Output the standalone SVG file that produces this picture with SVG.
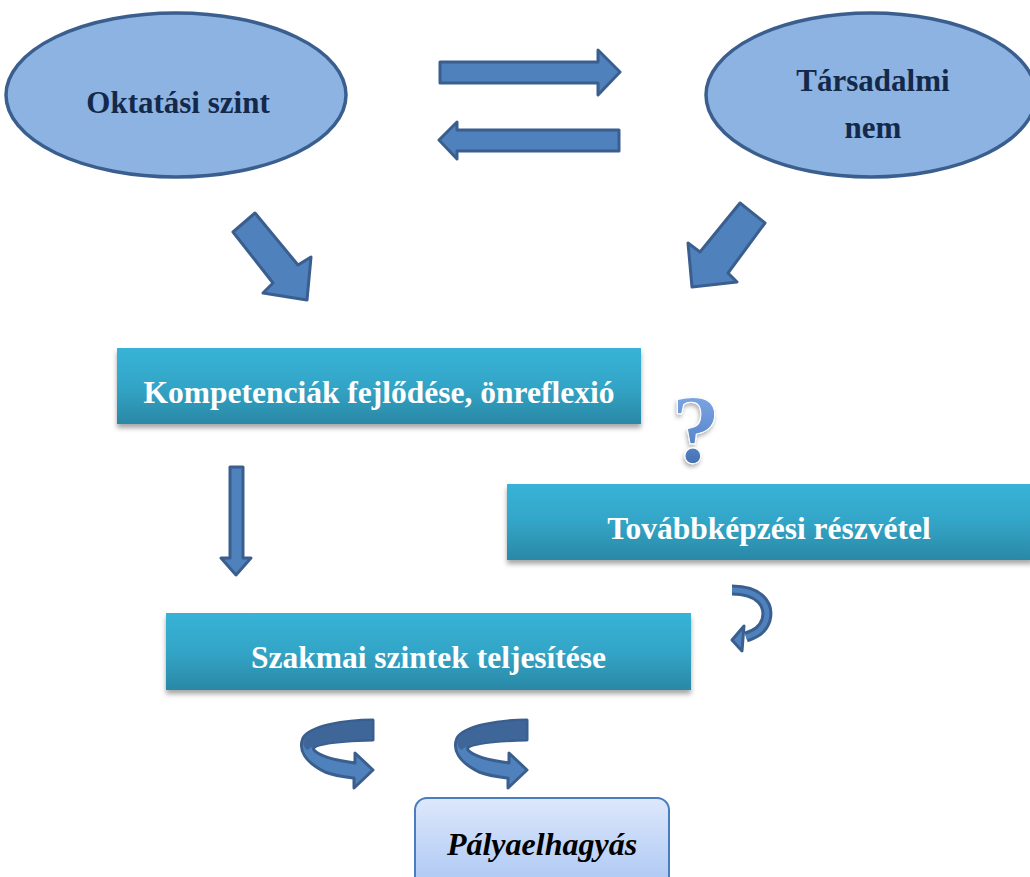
<svg xmlns="http://www.w3.org/2000/svg" width="1030" height="877" viewBox="0 0 1030 877">
<defs>
<linearGradient id="boxg" x1="0" y1="0" x2="0" y2="1">
<stop offset="0" stop-color="#37b3d7"/>
<stop offset="0.5" stop-color="#33a5c7"/>
<stop offset="1" stop-color="#2a88a5"/>
</linearGradient>
<linearGradient id="endg" x1="0" y1="0" x2="0" y2="1">
<stop offset="0" stop-color="#dde8fb"/>
<stop offset="1" stop-color="#a6c3f3"/>
</linearGradient>
<linearGradient id="qg" x1="0" y1="0" x2="0" y2="1">
<stop offset="0" stop-color="#8cb2ec"/>
<stop offset="0.55" stop-color="#5f8bd0"/>
<stop offset="1" stop-color="#35609f"/>
</linearGradient>
<filter id="sh" x="-5%" y="-20%" width="110%" height="150%">
<feDropShadow dx="0" dy="4" stdDeviation="2.5" flood-color="#000" flood-opacity="0.35"/>
</filter>
<filter id="qsh" x="-50%" y="-20%" width="200%" height="150%">
<feDropShadow dx="-1" dy="3" stdDeviation="2" flood-color="#000" flood-opacity="0.3"/>
</filter>
<style>
.ell{fill:#8db3e2;stroke:#3a5f8f;stroke-width:3.5}
.et{font-family:"Liberation Serif","Times New Roman",serif;font-weight:bold;font-size:31px;fill:#14294a;text-anchor:middle}
.box{fill:url(#boxg);filter:url(#sh)}
.bt{font-family:"Liberation Serif","Times New Roman",serif;font-weight:bold;font-size:31.5px;fill:#ffffff;text-anchor:middle}
.arr{fill:#4f81bd;stroke:#3a5f8f;stroke-width:3;stroke-linejoin:round}
.arrd{fill:#3f6699;stroke:none}
</style>
</defs>
<rect width="1030" height="877" fill="#ffffff"/>

<g id="connectors">
<polygon class="arr" points="440,62 598,62 598,50 620,72 598,95 598,83 440,83"/>
<polygon class="arr" points="619,130 457,130 457,122 439,140 457,159 457,151 619,151"/>
<polygon class="arr" points="233,232 255,213 298,265 311,257 307,300 263,293 273,283"/>
<polygon class="arr" points="740,203 765,223 728,273 737,282 692,287 688,243 700,252"/>
<polygon class="arr" stroke-width="2.5" points="230,467 243,467 243,558 251,558 236,575 221,558 230,558"/>
<g id="curl-right">
<path d="M732,590 C760,590 770,605 766,620 C763,630 755,634 746,637" fill="none" stroke="#3a5f8f" stroke-width="11"/>
<path d="M732,590 C760,590 770,605 766,620 C763,630 755,634 746,637" fill="none" stroke="#4f81bd" stroke-width="5"/>
<polygon class="arr" stroke-width="2.5" points="732,640 744,626 742,651"/>
</g>
<g id="curl1">
<path class="arr" stroke-width="2.5" d="M373,720 C345,720 310,726 303,738 C298,750 305,762 325,772 C335,776 345,777 354,778 L354,788 L373,770 L355,753 L355,763 C340,761 320,757 314,750 C310,745 330,741 373,740 Z"/>
<path class="arrd" d="M372,721.5 C345,721.5 311,727 304.5,738.5 C302,744 304,748 308,750 C312,744 335,741.5 372,738.5 Z"/>
</g>
<g id="curl2" transform="translate(154,0)">
<path class="arr" stroke-width="2.5" d="M373,720 C345,720 310,726 303,738 C298,750 305,762 325,772 C335,776 345,777 354,778 L354,788 L373,770 L355,753 L355,763 C340,761 320,757 314,750 C310,745 330,741 373,740 Z"/>
<path class="arrd" d="M372,721.5 C345,721.5 311,727 304.5,738.5 C302,744 304,748 308,750 C312,744 335,741.5 372,738.5 Z"/>
</g>
</g>

<g id="oktatasi">
<ellipse class="ell" cx="176" cy="95" rx="170" ry="82"/>
<text class="et" x="178" y="113">Oktatási szint</text>
</g>
<g id="tarsadalmi">
<ellipse class="ell" cx="871" cy="95" rx="165" ry="82"/>
<text class="et" x="873" y="91">Társadalmi</text>
<text class="et" x="873" y="138">nem</text>
</g>

<g id="kompetenciak">
<rect class="box" x="117" y="348" width="524" height="76"/>
<text class="bt" x="379" y="403">Kompetenciák fejlődése, önreflexió</text>
</g>
<g id="question">
<text x="696" y="462" font-family="'Liberation Serif','Times New Roman',serif" font-weight="bold" font-size="98" fill="url(#qg)" stroke="#ffffff" stroke-width="1" text-anchor="middle" filter="url(#qsh)">?</text>
</g>
<g id="tovabbkepzesi">
<rect class="box" x="507" y="484" width="526" height="76"/>
<text class="bt" x="769" y="539">Továbbképzési részvétel</text>
</g>
<g id="szakmai">
<rect class="box" x="166" y="613" width="525" height="77"/>
<text class="bt" x="428.5" y="668">Szakmai szintek teljesítése</text>
</g>
<g id="palyaelhagyas">
<rect x="415" y="798" width="254" height="100" rx="12" ry="12" fill="url(#endg)" stroke="#4a7cc0" stroke-width="2"/>
<text x="542" y="855" font-family="'Liberation Serif','Times New Roman',serif" font-weight="bold" font-style="italic" font-size="32" fill="#000000" text-anchor="middle">Pályaelhagyás</text>
</g>
</svg>
